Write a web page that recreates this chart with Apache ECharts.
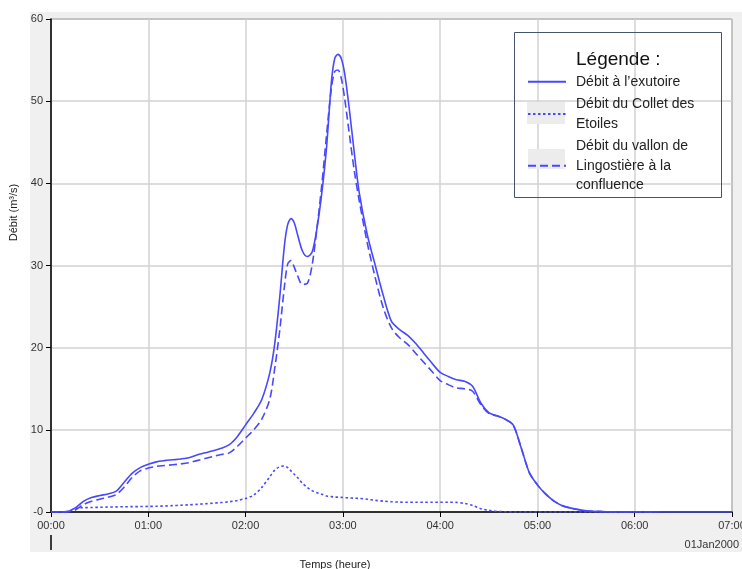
<!DOCTYPE html>
<html>
<head>
<meta charset="utf-8">
<script src="https://cdn.jsdelivr.net/npm/echarts@6/dist/echarts.min.js"></script>
<style>
  html, body { margin: 0; padding: 0; background: #fff; }
  #chart { width: 742px; height: 569px; }
</style>
</head>
<body>
<div id="chart"></div>
<script>
  // temps en minutes depuis 00:00
  const minutes = [0, 5, 10, 15, 20, 25, 30, 35, 40, 45, 50, 55, 60, 65, 70, 75, 80, 85, 90, 95,
    100, 105, 110, 115, 120, 125, 130, 135, 138, 141, 144, 146, 148, 150, 152, 155, 158, 161, 164, 167,
    170, 173, 175, 177, 179, 181, 184, 187, 190, 195, 200, 205, 210, 215, 220, 225, 230, 235, 240, 245,
    250, 255, 260, 265, 270, 275, 280, 285, 290, 295, 300, 305, 310, 315, 320, 325, 330, 340, 350, 360,
    375, 390, 405, 420]

  const debitExutoire = [0, 0, 0.05, 0.5, 1.3, 1.75, 2.0, 2.2, 2.5, 3.6, 4.7, 5.4, 5.8, 6.1, 6.25, 6.35, 6.45, 6.6, 6.95, 7.2,
    7.45, 7.75, 8.2, 9.2, 10.6, 12.0, 13.7, 17.0, 20.5, 26, 32.5, 35, 35.7, 35.2, 33.8, 31.8, 31.1, 31.6, 34.5, 38.8,
    44.5, 52.5, 55.2, 55.7, 55.2, 53.5, 49, 43.8, 39, 33.8, 30, 26.3, 23.2, 22.2, 21.5, 20.5, 19.3, 18.1, 17.0, 16.5,
    16.1, 15.9, 15.3, 13.3, 12.1, 11.7, 11.3, 10.6, 7.8, 4.8, 3.3, 2.2, 1.35, 0.8, 0.5, 0.3, 0.15, 0.05, 0, 0,
    0, 0, 0, 0]

  const debitCollet = [0, 0, 0.05, 0.45, 0.52, 0.55, 0.57, 0.6, 0.62, 0.64, 0.65, 0.66, 0.68, 0.7, 0.73, 0.78, 0.82, 0.87, 0.93, 1.0,
    1.07, 1.15, 1.25, 1.4, 1.65, 2.05, 3.0, 4.3, 5.1, 5.5, 5.6, 5.4, 5.0, 4.6, 4.2, 3.5, 3.0, 2.6, 2.35, 2.15,
    1.95, 1.87, 1.82, 1.8, 1.78, 1.75, 1.72, 1.68, 1.65, 1.55, 1.42, 1.32, 1.25, 1.2, 1.18, 1.18, 1.18, 1.18, 1.18, 1.18,
    1.17, 1.05, 0.8, 0.4, 0.2, 0.08, 0.03, 0, 0, 0, 0, 0, 0, 0, 0, 0, 0, 0, 0, 0,
    0]

  const debitVallon = [0, 0, 0, 0.25, 0.9, 1.3, 1.55, 1.8, 2.1, 3.0, 4.2, 5.0, 5.35, 5.55, 5.65, 5.75, 5.85, 6.0, 6.25, 6.5,
    6.75, 7.0, 7.2, 8.0, 9.0, 10.0, 11.3, 13.8, 17.5, 22, 27.5, 30.2, 30.6, 29.8, 28.8, 27.7, 27.8, 30, 34.5, 39.8,
    46, 51.7, 53.6, 53.8, 52.8, 50.5, 46, 41.6, 38, 32.8, 28.5, 24.8, 22.4, 21.2, 20.4, 19.3, 18.2, 17.1, 16.0, 15.5,
    15.1, 15.0, 14.7, 13.1, 12.0, 11.7, 11.3, 10.6, 7.8, 4.8, 3.3, 2.2, 1.35, 0.8, 0.5, 0.3, 0.15, 0.05, 0, 0,
    0]

  const hourLabels = ['00:00', '01:00', '02:00', '03:00', '04:00', '05:00', '06:00', '07:00']

  const seriesNames = ['Débit à l’exutoire', 'Débit du Collet des\nEtoiles', 'Débit du vallon de\nLingostière à la\nconfluence']

  const blue = '#4848ff'
  const font = 'Liberation Sans'

  function pairs(values) {
    return values.map((v, i) => [minutes[i], v])
  }

  const chart = echarts.init(document.getElementById('chart'))

  const option = {
    backgroundColor: '#fff',
    animation: false,
    grid: {
      left: 51,
      right: 10,
      top: 19,
      bottom: 57,
      outerBoundsMode: 'none',
      show: true,
      backgroundColor: '#fff',
      borderColor: '#3c3c3c',
      borderWidth: 1
    },
    graphic: [
      { type: 'rect', z: -10, shape: { x: 30, y: 12, width: 712, height: 540 }, style: { fill: '#f0f0f0' } },
      { type: 'rect', z: 1, shape: { x: 527, y: 102, width: 38, height: 22 }, style: { fill: '#ececec' } },
      { type: 'rect', z: 1, shape: { x: 528, y: 149, width: 37, height: 20 }, style: { fill: '#ececec' } },
      { type: 'rect', z: 5, shape: { x: 514.5, y: 32.5, width: 207, height: 165 }, style: { fill: 'none', stroke: '#44546a', lineWidth: 1 } },
      { type: 'text', z: 5, x: 576, y: 60, style: { text: 'Légende :', font: '19px ' + font, fill: '#111', verticalAlign: 'middle' } },
      { type: 'text', z: 5, x: 739, y: 545, style: { text: '01Jan2000', font: '11px ' + font, fill: '#333', align: 'right', verticalAlign: 'middle' } },
      { type: 'line', z: 5, shape: { x1: 51, y1: 535, x2: 51, y2: 550 }, style: { stroke: '#000', lineWidth: 1.5 } }
    ],
    legend: {
      orient: 'vertical',
      left: 527,
      top: 72,
      padding: 0,
      itemWidth: 38,
      itemHeight: 14,
      itemGap: 3,
      itemStyle: { opacity: 0 },
      textStyle: { fontFamily: font, fontSize: 14, color: '#222', lineHeight: 19.5, padding: [0, 0, 0, 5] },
      data: seriesNames
    },
    xAxis: {
      type: 'value',
      min: 0,
      max: 420,
      interval: 60,
      name: 'Temps (heure)',
      nameLocation: 'middle',
      nameGap: 47,
      nameTextStyle: { fontFamily: font, fontSize: 11, color: '#222', padding: [0, 113, 0, 0] },
      axisLine: { onZero: false, lineStyle: { color: '#000', width: 1.5 } },
      axisTick: { show: true, length: 5, lineStyle: { color: '#000' } },
      axisLabel: {
        fontFamily: font, fontSize: 11, color: '#333', margin: 8,
        formatter: v => hourLabels[Math.round(v / 60)]
      },
      splitLine: { show: true, lineStyle: { color: '#d2d2d2', width: 1.5 } }
    },
    yAxis: {
      type: 'value',
      min: 0,
      max: 60,
      interval: 10,
      name: 'Débit (m³/s)',
      nameLocation: 'middle',
      nameGap: 31,
      nameTextStyle: { fontFamily: font, fontSize: 11, color: '#222', padding: [0, 0, 0, 106] },
      axisLine: { show: true, lineStyle: { color: '#000', width: 1.5 } },
      axisTick: { show: true, length: 5, lineStyle: { color: '#000' } },
      axisLabel: {
        fontFamily: font, fontSize: 11, color: '#333', margin: 8,
        formatter: v => (v === 0 ? '-0' : String(v))
      },
      splitLine: { show: true, lineStyle: { color: '#d2d2d2', width: 1.5 } }
    },
    series: [
      {
        name: seriesNames[0],
        type: 'line',
        data: pairs(debitExutoire),
        smooth: 0.3,
        symbol: 'none',
        lineStyle: { color: blue, width: 1.6 },
        itemStyle: { color: blue },
        z: 3
      },
      {
        name: seriesNames[1],
        type: 'line',
        data: pairs(debitCollet),
        smooth: 0.3,
        symbol: 'none',
        lineStyle: { color: blue, width: 1.6, type: [2.5, 2.5] },
        itemStyle: { color: blue },
        z: 2
      },
      {
        name: seriesNames[2],
        type: 'line',
        data: pairs(debitVallon),
        smooth: 0.3,
        symbol: 'none',
        lineStyle: { color: blue, width: 1.6, type: [8, 4] },
        itemStyle: { color: blue },
        z: 2
      }
    ]
  }

  chart.setOption(option)
</script>
</body>
</html>
